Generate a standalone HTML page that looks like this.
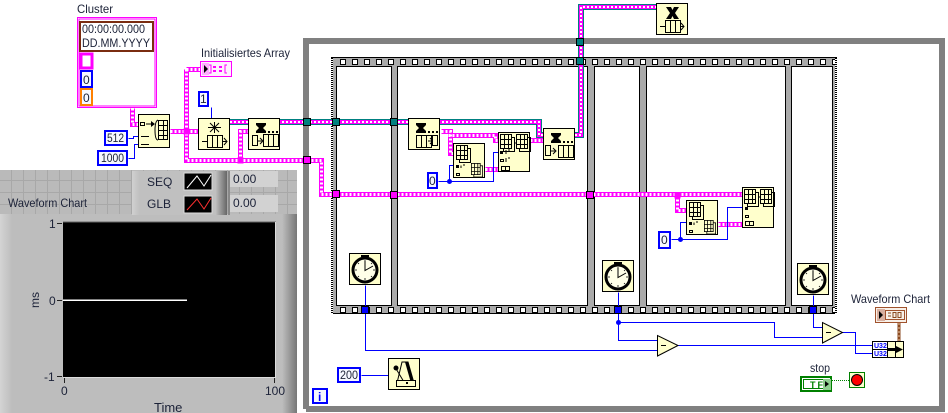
<!DOCTYPE html>
<html><head><meta charset="utf-8"><style>
html,body{margin:0;padding:0;background:#fff}
svg{display:block}
text{font-family:"Liberation Sans",sans-serif;font-size:12px;fill:#1c2238}
.n{fill:#ffffcc;stroke:#000;stroke-width:1}
.c{fill:#f6f8ff;stroke:#0000ff;stroke-width:2}
.b{fill:none;stroke:#0000ff;stroke-width:1}
.i{fill:none;stroke:#000;stroke-width:1}
.p1{fill:none;stroke:#ff00ff;stroke-width:5}
.p2{fill:none;stroke:#fff;stroke-width:3;stroke-dasharray:2 2}
.t0{fill:none;stroke:#008080;stroke-width:6}
.t1{fill:none;stroke:#ff00ff;stroke-width:4}
.t2{fill:none;stroke:#fff;stroke-width:2;stroke-dasharray:2 2}
</style></head><body>
<svg width="948" height="413" viewBox="0 0 948 413" xmlns="http://www.w3.org/2000/svg">
<defs>
<pattern id="grid" width="12" height="12" patternUnits="userSpaceOnUse" x="0" y="1">
<rect width="12" height="12" fill="#bababa"/><path d="M11.5 0V12M0 11.5H12" stroke="#a8a8a8"/>
</pattern>
<linearGradient id="bodyg" x1="0" x2="1" y1="0" y2="0">
<stop offset="0" stop-color="#d4d4d4"/><stop offset=".04" stop-color="#bdbdbd"/><stop offset=".95" stop-color="#bdbdbd"/><stop offset="1" stop-color="#777"/>
</linearGradient>
<linearGradient id="legg" x1="0" x2="1" y1="0" y2="0">
<stop offset="0" stop-color="#d0d0d0"/><stop offset=".08" stop-color="#c0c0c0"/><stop offset=".88" stop-color="#c0c0c0"/><stop offset="1" stop-color="#666"/>
</linearGradient>
<path id="pw" d="M132 108V124H140M170 131H198M186 69V160H307M186 69H200M240 160V131H248M307 160H321V194H742M441 131H450V153H453M448 135H495V140H498M485 169H498M530 140H543M677 195V210H686M718 224H742"/>
<path id="tw" d="M230 122H539V135H548M575 135H581V7H656"/>
<g id="hg"><path d="M0 0H10V2L7 5L10 8V10H0V8L3 5L0 2Z" fill="#000"/><rect x="12" y="8" width="2" height="2"/><rect x="16" y="8" width="2" height="2"/><rect x="20" y="8" width="2" height="2"/></g>
<g id="qc"><path class="i" d="M.5 .5H15.5V12.5H.5ZM5.5 .5V12.5M10.5 .5V12.5"/></g>
<g id="ar"><rect x="3.500" y="3.500" width="11" height="14" fill="none" stroke="#000"/><rect x=".5" y=".5" width="11" height="14" fill="#ffffcc" stroke="#000"/><path class="i" d="M4.500 .5V14.500M8.500 .5V14.500M.5 5.500H11.500M.5 10.500H11.500"/></g>
<g id="clk"><rect class="n" x=".5" y=".5" width="31" height="31"/>
<rect x="12" y="2" width="8" height="2"/><rect x="15" y="3" width="2" height="3"/>
<circle cx="16" cy="17" r="12" fill="#ffffe8" stroke="#000" stroke-width="3"/>
<path d="M16 8V17.500L24 13" fill="none" stroke="#000"/>
<path d="M16 7v2M16 25v2M6 17h2M24 17h2M9 10l1 1M23 10l-1 1M9 24l1-1M23 24l-1-1" stroke="#000" stroke-width=".8"/></g>
</defs>

<!-- front panel -->
<rect x="0" y="170" width="297" height="46" fill="url(#grid)"/>
<rect x="0" y="214" width="297" height="199" fill="url(#bodyg)"/>
<rect x="132" y="171" width="95" height="44" fill="url(#legg)"/>
<rect x="228" y="171" width="2" height="44" fill="#888"/>
<rect x="230" y="171" width="48" height="16" fill="#d2d2d2"/>
<rect x="230" y="195" width="48" height="17" fill="#d2d2d2"/>
<text x="147" y="186">SEQ</text><text x="147" y="208">GLB</text>
<rect x="184" y="173" width="28" height="17" fill="#000" stroke="#ddd"/>
<rect x="184" y="196" width="28" height="17" fill="#000" stroke="#ddd"/>
<path d="M187 188L197 176L204 186L211 175" fill="none" stroke="#fff"/>
<path d="M187 210L197 199L204 209L211 198" fill="none" stroke="#ff3030"/>
<text x="233" y="183">0.00</text><text x="233" y="207">0.00</text>
<text x="8" y="207" textLength="79" lengthAdjust="spacingAndGlyphs">Waveform Chart</text>
<rect x="63" y="222" width="213" height="155" fill="#000"/>
<path d="M63 222H276" stroke="#666"/><path d="M63 377.500H276" stroke="#ddd"/><path d="M275.500 222V378" stroke="#ddd"/>
<rect x="63" y="299.500" width="124" height="1.500" fill="#fff"/>
<path d="M57 223.500H62M57 300.500H62M57 376.500H62M64.500 378V383M274.500 378V383" stroke="#222"/>
<text x="49" y="228">1</text><text x="49" y="305">0</text><text x="44" y="381">-1</text>
<text x="61" y="395">0</text><text x="265" y="395">100</text>
<text x="154" y="412" style="font-size:13px">Time</text>
<text x="0" y="0" transform="translate(39,308) rotate(-90)">ms</text>

<!-- while loop -->
<path d="M306 409V41H942V409H306" fill="#fff" stroke="#808080" stroke-width="6"/>

<!-- sequence film -->
<rect x="331.500" y="57.500" width="505" height="256" fill="#aaa" stroke="#000"/>
<rect x="336.500" y="66.500" width="55" height="239" fill="#fff" stroke="#000"/>
<rect x="397.500" y="66.500" width="190" height="239" fill="#fff" stroke="#000"/>
<rect x="594.500" y="66.500" width="45" height="239" fill="#fff" stroke="#000"/>
<rect x="646.500" y="66.500" width="139" height="239" fill="#fff" stroke="#000"/>
<rect x="791.500" y="66.500" width="41" height="239" fill="#fff" stroke="#000"/>
<path d="M340 62H837M340 310H837" stroke="#000" stroke-width="6" stroke-dasharray="6 6"/>
<path d="M341 62H837M341 310H837" stroke="#fff" stroke-width="4" stroke-dasharray="4 8"/>
<path d="M332 58V314M836 58V314" stroke="#fff" stroke-width="2"/>
<path d="M332 58V314M836 58V314" stroke="#000" stroke-width="2" stroke-dasharray="1 1"/>

<!-- pink wires -->
<g transform="translate(.5,.5)"><use href="#pw" class="p1"/><use href="#pw" class="p2"/>
<path d="M237 157H243V163H237ZM183 128V134H189V128ZM674 192H680V198H674Z" fill="#ff00ff"/></g>
<use href="#tw" class="t0"/><use href="#tw" class="t1"/><use href="#tw" class="t2"/>

<!-- blue wires -->
<g transform="translate(.5,.5)">
<path class="b" d="M128 138H133V136H138M128 158H134V144H138M211 107V118M438 181H449V165H453M449 181H493V152H498M671 239H680V222H686M680 239H727V207H742M365 285V350H657M618 292V340H657M618 322H774V337H822M813 295V327H822M678 345H872M842 332H855V353H872M361 375H388"/>
<circle cx="449" cy="181" r="2.500" fill="#0000ff"/><circle cx="680" cy="239" r="2.500" fill="#0000ff"/><circle cx="618" cy="322" r="2.500" fill="#0000ff"/>
</g>

<!-- tunnels -->
<g fill="#008080" stroke="#000"><rect x="303.500" y="118.500" width="7" height="7"/><rect x="332.500" y="118.500" width="7" height="7"/><rect x="390.500" y="118.500" width="7" height="7"/><rect x="576.500" y="38.500" width="7" height="7"/><rect x="576.500" y="57.500" width="7" height="7"/></g>
<g fill="#ff00ff" stroke="#000"><rect x="303.500" y="156.500" width="7" height="7"/><rect x="332.500" y="190.500" width="7" height="7"/><rect x="390.500" y="191.500" width="7" height="7"/><rect x="586.500" y="191.500" width="7" height="7"/></g>
<g fill="#0000ff" stroke="#000"><rect x="361.500" y="306.500" width="7" height="7"/><rect x="614.500" y="306.500" width="7" height="7"/><rect x="809.500" y="306.500" width="7" height="7"/></g>

<!-- cluster -->
<text x="77" y="13" textLength="36" lengthAdjust="spacingAndGlyphs">Cluster</text>
<rect x="77.500" y="17.500" width="79" height="90" fill="#fff" stroke="#ff00ff"/>
<rect x="79" y="19" width="76" height="87" fill="#fff" stroke="#ff00ff"/>
<rect x="80" y="22" width="73" height="29" fill="#fff" stroke="#7a2c10" stroke-width="2"/>
<text x="82" y="33" textLength="63" lengthAdjust="spacingAndGlyphs">00:00:00.000</text>
<text x="82" y="47" textLength="68" lengthAdjust="spacingAndGlyphs">DD.MM.YYYY</text>
<rect x="81" y="54" width="11" height="14" fill="#fff" stroke="#ff00ff" stroke-width="3"/>
<rect x="81" y="71" width="11" height="16" fill="#f6f8ff" stroke="#0000ff" stroke-width="2"/>
<text x="83" y="84">0</text>
<rect x="81" y="89" width="11" height="16" fill="#f6f8ff" stroke="#ff8000" stroke-width="2"/>
<text x="83" y="102">0</text>

<!-- init array -->
<text x="201" y="57" textLength="89" lengthAdjust="spacingAndGlyphs">Initialisiertes Array</text>
<rect x="200.500" y="61.500" width="31" height="15" fill="#fff0ff" stroke="#ff00ff"/>
<rect x="202" y="63" width="7" height="12" fill="#ffb0ff"/>
<path d="M204 65L208 69L204 73Z" fill="#000"/>
<path d="M209 65H211V73H209M227 65H225V73H227" fill="none" stroke="#ff00ff"/>
<rect x="213" y="66" width="3" height="2" fill="#ff00ff"/><rect x="219" y="66" width="3" height="2" fill="#ff00ff"/><rect x="213" y="70" width="3" height="2" fill="#ff00ff"/><rect x="219" y="70" width="3" height="2" fill="#ff00ff"/>

<!-- constants -->
<rect class="c" x="105" y="131" width="22" height="14"/><text x="107" y="142" textLength="17" lengthAdjust="spacingAndGlyphs">512</text>
<rect class="c" x="98" y="151" width="29" height="14"/><text x="101" y="162" textLength="23" lengthAdjust="spacingAndGlyphs">1000</text>
<rect class="c" x="199" y="92" width="9" height="14"/><text x="200" y="103">1</text>
<rect class="c" x="428" y="173" width="9" height="15"/><text x="429" y="185">0</text>
<rect class="c" x="659" y="232" width="11" height="16"/><text x="661" y="244">0</text>
<rect class="c" x="338" y="368" width="22" height="14"/><text x="340" y="379" textLength="18" lengthAdjust="spacingAndGlyphs">200</text>
<rect x="313" y="389" width="14" height="14" fill="#f6f8ff" stroke="#0000ff" stroke-width="2"/><text x="318" y="401" style="fill:#0000ff;font-weight:bold">i</text>

<!-- bundle to array -->
<rect class="n" x="138.500" y="114.500" width="31" height="33"/>
<path class="i" d="M140.500 122.500h4v3h-4zM146 124h5M141 136.500h8M141 144.500h8"/>
<path d="M151 121L155 124L151 127Z M141 134V139M149 134V139M141 142V147M149 142V147"/>
<path class="i" d="M158 120Q155 121 155 130Q155 140 158 140"/>
<rect x="158.500" y="120.500" width="9" height="19" fill="#ffffcc" stroke="#000"/>
<path class="i" d="M158.500 125.500H167.500M158.500 130.500H167.500M158.500 135.500H167.500M163.500 120.500V139.500"/>

<!-- obtain queue -->
<rect class="n" x="198.500" y="118.500" width="31" height="31"/>
<path d="M214.500 122V133M208 127.500H221M210 123L219 132M219 123L210 132" stroke="#000"/>
<use href="#qc" x="207" y="135"/><path class="i" d="M202 141.500H207M223 141.500H227M224 138L227 141.500L224 145"/>

<!-- lossy enqueue / flush -->
<rect class="n" x="248.500" y="118.500" width="31" height="31"/>
<use href="#hg" x="256" y="123"/>
<rect x="252.500" y="135.500" width="5" height="10" fill="none" stroke="#000"/>
<path class="i" d="M258 141H262M260 138L263 141L260 144"/>
<use href="#qc" x="263" y="134"/>

<rect class="n" x="408.500" y="118.500" width="31" height="31"/>
<use href="#hg" x="416" y="123"/>
<use href="#qc" x="416" y="135"/><path class="i" d="M428 141H432M430 138L433 141L430 144"/>
<rect x="432.500" y="135.500" width="5" height="10" fill="#ffffcc" stroke="#000"/>

<rect class="n" x="543.500" y="128.500" width="31" height="31"/>
<use href="#hg" x="551" y="133"/>
<rect x="545.500" y="145.500" width="5" height="10" fill="none" stroke="#000"/>
<path class="i" d="M551 151H555M553 148L556 151L553 154"/>
<use href="#qc" x="558" y="145"/>

<!-- array nodes -->
<rect class="n" x="453.500" y="143.500" width="31" height="34"/>
<use href="#ar" x="456" y="145"/>
<rect x="456" y="165" width="3" height="3"/><path class="i" d="M461 165.500V168M463 165H465"/>
<rect x="456.500" y="173.500" width="3" height="2" fill="none" stroke="#000"/>
<g transform="translate(471,163) scale(.8)"><use href="#ar"/></g>

<rect class="n" x="498.500" y="132.500" width="31" height="39"/>
<use href="#ar" x="500" y="134"/><use href="#ar" x="516" y="134"/>
<path d="M514 143H516" stroke="#000"/><rect x="500" y="151" width="3" height="3"/><path class="i" d="M506 150V154M508 150H510"/>
<rect x="500.500" y="159.500" width="3" height="2" fill="none" stroke="#000"/><path class="i" d="M506 158V162M508 158H510"/>
<path class="i" d="M501.500 166.500H509.500V170.500H501.500ZM505.500 166.500V170.500"/>

<rect class="n" x="686.500" y="200.500" width="31" height="34"/>
<use href="#ar" x="689" y="202"/>
<rect x="689" y="222" width="3" height="3"/><path class="i" d="M694 222.500V225M696 222H698"/>
<rect x="689.500" y="230.500" width="3" height="2" fill="none" stroke="#000"/>
<g transform="translate(704,220) scale(.8)"><use href="#ar"/></g>

<rect class="n" x="742.500" y="187.500" width="31" height="40"/>
<use href="#ar" x="744" y="189"/><use href="#ar" x="760" y="189"/>
<path d="M758 197H760" stroke="#000"/><rect x="745" y="207" width="3" height="3"/>
<rect x="745.500" y="215.500" width="3" height="2" fill="none" stroke="#000"/>
<path class="i" d="M745.500 221.500H753.500V225.500H745.500ZM749.500 221.500V225.500"/>

<!-- release queue -->
<rect class="n" x="656.500" y="3.500" width="31" height="31"/>
<path d="M666 7H671L672.500 10L674 7H679L675 13L679 19H674L672.500 16L671 19H666L670 13Z" fill="#000"/>
<use href="#qc" x="665" y="20"/><path class="i" d="M660 26.500H665M681 26.500H684M681 23L684 26.500L681 30"/>

<!-- clocks -->
<use href="#clk" x="349" y="253"/><use href="#clk" x="602" y="260"/><use href="#clk" x="797" y="263"/>

<!-- metronome -->
<rect class="n" x="388.500" y="358.500" width="31" height="31"/>
<path d="M397 383L402 362H408L414 383Z" fill="#ffffcc" stroke="#000"/>
<path d="M408 362L414 383H411L405 362Z" fill="#000"/>
<path d="M395 367L404 382" stroke="#000"/><circle cx="396" cy="368" r="2.500"/>
<rect x="396.500" y="380.500" width="19" height="6" fill="#ffffcc" stroke="#000"/>
<path d="M406 382h2v2h-2z"/>

<!-- subtract -->
<path d="M657.500 335.500V356L678 345.500Z" fill="#ffffcc" stroke="#000"/><path d="M661 345.500H666" stroke="#000"/>
<path d="M822.500 322.500V343L842.500 332.500Z" fill="#ffffcc" stroke="#000"/><path d="M826 332.500H831" stroke="#000"/>

<!-- chart terminal -->
<text x="851" y="303" textLength="79" lengthAdjust="spacingAndGlyphs">Waveform Chart</text>
<rect x="875.500" y="307.500" width="31" height="15" fill="#f8f0e8" stroke="#a0522d"/>
<rect x="877" y="309" width="8" height="12" fill="#d8b0a0"/>
<path d="M879 311L883 315L879 319Z" fill="#000"/>
<rect x="885.500" y="310.500" width="19" height="9" fill="none" stroke="#a0522d"/>
<path d="M888 313H891M888 316H891M893 312.500h3v5h-3zM898 312.500h3v5h-3z" fill="none" stroke="#8a4a20"/>
<path d="M899 323V341" stroke="#8b4a20" stroke-width="3"/>
<path d="M899 323V341" stroke="#e8c8a8" stroke-width="1" stroke-dasharray="2 2"/>

<!-- bundle -->
<rect x="872.500" y="341.500" width="31" height="16" fill="#ffffcc" stroke="#000"/>
<rect x="872.500" y="341.500" width="15" height="8" fill="#fff" stroke="#000"/>
<rect x="872.500" y="349.500" width="15" height="8" fill="#fff" stroke="#000"/>
<path d="M895.500 341.500V357.500" stroke="#000"/>
<text x="874" y="348" style="font-size:7px;font-weight:bold;fill:#0000ff">U32</text>
<text x="874" y="356" style="font-size:7px;font-weight:bold;fill:#0000ff">U32</text>
<path d="M888 348H896V346L903 349.500L896 353V351H888Z" fill="#000"/>

<!-- stop -->
<text x="810" y="372" textLength="20" lengthAdjust="spacingAndGlyphs">stop</text>
<rect x="801" y="377" width="30" height="14" fill="#fff" stroke="#008000" stroke-width="2"/>
<rect x="803.500" y="379.500" width="25" height="9" fill="#fff" stroke="#008000"/>
<rect x="823" y="379" width="8" height="11" fill="#8fce8f"/>
<text x="810" y="388" style="font-size:9px;font-weight:bold;fill:#008000" textLength="13" lengthAdjust="spacing">TF</text>
<path d="M825 381L829 384L825 387Z" fill="#000"/>
<path d="M832 380.500H849" stroke="#008000" stroke-dasharray="1 1"/>
<rect x="849.500" y="372.500" width="15" height="15" fill="#ffffcc" stroke="#008000"/>
<circle cx="857" cy="380" r="5.500" fill="#ff0000" stroke="#000"/>
</svg>
</body></html>
